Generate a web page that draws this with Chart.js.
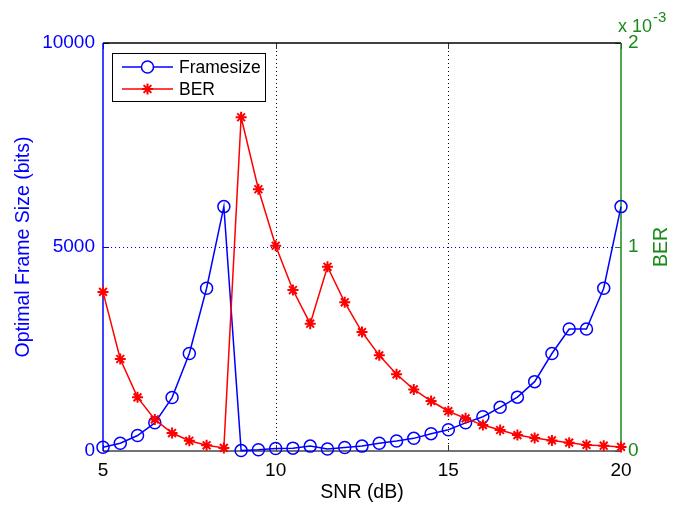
<!DOCTYPE html>
<html>
<head>
<meta charset="utf-8">
<script src="https://cdn.jsdelivr.net/npm/chart.js@4.4.1/dist/chart.umd.min.js"></script>
<style>
html, body { margin: 0; padding: 0; background: #fff; }
#wrap { width: 686px; height: 506px; }
</style>
</head>
<body>
<div id="wrap"><canvas id="chart" width="686" height="506"></canvas></div>
<script>
// data
const snr = [5, 5.5, 6, 6.5, 7, 7.5, 8, 8.5, 9, 9.5, 10, 10.5, 11, 11.5, 12, 12.5,
             13, 13.5, 14, 14.5, 15, 15.5, 16, 16.5, 17, 17.5, 18, 18.5, 19, 19.5, 20];
const frameSize = [90, 190, 380, 690, 1310, 2390, 3990, 5990, 10, 30, 60, 70, 120, 50, 85, 120,
                   190, 245, 310, 425, 520, 690, 840, 1070, 1320, 1700, 2390, 2990, 2990, 3990, 5990];
const ber = [0.78e-3, 0.451e-3, 0.263e-3, 0.155e-3, 0.088e-3, 0.05e-3, 0.028e-3, 0.015e-3,
             1.636e-3, 1.283e-3, 1.006e-3, 0.789e-3, 0.624e-3, 0.903e-3, 0.729e-3, 0.583e-3,
             0.469e-3, 0.376e-3, 0.302e-3, 0.245e-3, 0.195e-3, 0.16e-3, 0.127e-3, 0.103e-3,
             0.078e-3, 0.064e-3, 0.052e-3, 0.041e-3, 0.03e-3, 0.026e-3, 0.02e-3];
const xTicks = [5, 10, 15, 20];
const leftTicks = [0, 5000, 10000];
const rightTicks = [0, 1e-3, 2e-3];

const BLUE = '#0000ff';
const RED = '#ff0000';
const GREEN = '#1a8a1a';
const FONT = '"Liberation Sans", Arial, sans-serif';

const tickFont = { family: FONT, size: 19 };
const titleFont = { family: FONT, size: 19.5 };

// grid, axis lines and inner tick marks, MATLAB style
const axesPlugin = {
    id: 'axesLines',
    beforeDatasetsDraw(chart) {
        const { ctx, chartArea: a, scales } = chart;
        const x = scales.x, y = scales.y, y1 = scales.y1;
        ctx.save();
        ctx.lineWidth = 1;
        ctx.setLineDash([1, 3]);
        // vertical dotted grid
        ctx.strokeStyle = '#000';
        xTicks.forEach(v => {
            if (v === x.min || v === x.max) return;
            const px = Math.round(x.getPixelForValue(v)) + 0.5;
            ctx.beginPath(); ctx.moveTo(px, a.top); ctx.lineTo(px, a.bottom); ctx.stroke();
        });
        // horizontal dotted grid (left axis)
        ctx.strokeStyle = BLUE;
        leftTicks.forEach(v => {
            if (v === y.min || v === y.max) return;
            const py = Math.round(y.getPixelForValue(v)) + 0.5;
            ctx.beginPath(); ctx.moveTo(a.left, py); ctx.lineTo(a.right, py); ctx.stroke();
        });
        ctx.setLineDash([]);
        const tl = 6;
        // x ticks, bottom and top
        ctx.strokeStyle = '#333';
        xTicks.forEach(v => {
            const px = Math.round(x.getPixelForValue(v)) + 0.5;
            ctx.beginPath();
            ctx.moveTo(px, a.bottom); ctx.lineTo(px, a.bottom - tl);
            ctx.moveTo(px, a.top); ctx.lineTo(px, a.top + tl);
            ctx.stroke();
        });
        ctx.strokeStyle = BLUE;
        leftTicks.forEach(v => {
            const py = Math.round(y.getPixelForValue(v)) + 0.5;
            ctx.beginPath(); ctx.moveTo(a.left, py); ctx.lineTo(a.left + tl, py); ctx.stroke();
        });
        ctx.strokeStyle = GREEN;
        rightTicks.forEach(v => {
            const py = Math.round(y1.getPixelForValue(v)) + 0.5;
            ctx.beginPath(); ctx.moveTo(a.right, py); ctx.lineTo(a.right - tl, py); ctx.stroke();
        });
        // box
        ctx.lineWidth = 1.5;
        ctx.strokeStyle = '#000';
        ctx.beginPath(); ctx.moveTo(a.left, a.top); ctx.lineTo(a.right, a.top); ctx.stroke();
        ctx.strokeStyle = '#444';
        ctx.beginPath(); ctx.moveTo(a.left, a.bottom); ctx.lineTo(a.right, a.bottom); ctx.stroke();
        ctx.strokeStyle = BLUE;
        ctx.beginPath(); ctx.moveTo(a.left, a.top); ctx.lineTo(a.left, a.bottom); ctx.stroke();
        ctx.strokeStyle = GREEN;
        ctx.beginPath(); ctx.moveTo(a.right, a.top); ctx.lineTo(a.right, a.bottom); ctx.stroke();
        ctx.restore();
    },
    afterDraw(chart) {
        const { ctx, chartArea: a } = chart;
        ctx.save();
        // right axis title, reading bottom to top
        ctx.fillStyle = GREEN;
        ctx.font = '19.5px ' + FONT;
        ctx.textAlign = 'center';
        ctx.textBaseline = 'middle';
        ctx.translate(662, (a.top + a.bottom) / 2);
        ctx.rotate(-Math.PI / 2);
        ctx.fillText('BER', 0, 0);
        ctx.setTransform(1, 0, 0, 1, 0, 0);

        // exponent label of the right axis
        ctx.textAlign = 'left';
        ctx.textBaseline = 'alphabetic';
        ctx.font = '18px ' + FONT;
        ctx.fillText('x 10', a.right - 3, 32);
        ctx.font = '15px ' + FONT;
        ctx.fillText('-3', a.right + 32, 22);

        // legend box
        const bx = 112.5, by = 53.5, bw = 153, bh = 48;
        ctx.fillStyle = '#fff';
        ctx.fillRect(bx, by, bw, bh);
        ctx.strokeStyle = '#000';
        ctx.lineWidth = 1;
        ctx.strokeRect(bx, by, bw, bh);
        ctx.font = '17.5px ' + FONT;
        ctx.textBaseline = 'middle';
        chart.data.datasets.forEach((ds, i) => {
            const ry = 67 + i * 22;
            ctx.strokeStyle = ds.borderColor;
            ctx.lineWidth = 1.5;
            ctx.beginPath(); ctx.moveTo(122, ry); ctx.lineTo(173, ry); ctx.stroke();
            ctx.lineWidth = ds.pointBorderWidth;
            Chart.helpers.drawPoint(ctx, {
                pointStyle: ds.pointStyle, radius: ds.pointRadius, rotation: 0,
                borderWidth: ds.pointBorderWidth
            }, 147.5, ry);
            ctx.fillStyle = '#000';
            ctx.fillText(ds.label, 179, ry + 1);
        });
        ctx.restore();
    }
};

new Chart(document.getElementById('chart'), {
    type: 'line',
    data: {
        datasets: [{
            label: 'Framesize',
            data: snr.map((s, i) => ({ x: s, y: frameSize[i] })),
            yAxisID: 'y',
            borderColor: BLUE,
            backgroundColor: 'rgba(0,0,0,0)',
            borderWidth: 1.5,
            pointStyle: 'circle',
            pointRadius: 6,
            pointBorderWidth: 1.5,
            pointBorderColor: BLUE,
            pointBackgroundColor: 'rgba(0,0,0,0)',
            tension: 0,
            clip: false,
            order: 2
        }, {
            label: 'BER',
            data: snr.map((s, i) => ({ x: s, y: ber[i] })),
            yAxisID: 'y1',
            borderColor: RED,
            backgroundColor: RED,
            borderWidth: 1.5,
            pointStyle: 'star',
            pointRadius: 5.5,
            pointBorderWidth: 2,
            pointBorderColor: RED,
            pointBackgroundColor: RED,
            tension: 0,
            clip: false,
            order: 1
        }]
    },
    options: {
        responsive: false,
        animation: false,
        devicePixelRatio: 1,
        layout: { padding: { top: 43, left: 0, right: 0, bottom: 0 } },
        plugins: { legend: { display: false }, tooltip: { enabled: false } },
        scales: {
            x: {
                type: 'linear',
                position: 'bottom',
                min: 5, max: 20,
                afterBuildTicks: s => { s.ticks = xTicks.map(v => ({ value: v })); },
                afterFit: s => { s.height = 55; },
                grid: { display: false, drawTicks: false },
                border: { display: false },
                ticks: { color: '#000', font: tickFont, padding: 8, maxRotation: 0 },
                title: { display: true, text: 'SNR (dB)', color: '#000', font: titleFont,
                         padding: { top: 0, bottom: 2 } }
            },
            y: {
                type: 'linear',
                position: 'left',
                min: 0, max: 10000,
                afterBuildTicks: s => { s.ticks = leftTicks.map(v => ({ value: v })); },
                afterFit: s => { s.width = 103; },
                grid: { display: false, drawTicks: false },
                border: { display: false },
                ticks: { color: BLUE, font: tickFont, padding: 8, callback: v => String(v) },
                title: { display: true, text: 'Optimal Frame Size (bits)', color: BLUE, font: titleFont,
                         padding: { top: 12, bottom: 0 } }
            },
            y1: {
                type: 'linear',
                position: 'right',
                min: 0, max: 2e-3,
                afterBuildTicks: s => { s.ticks = rightTicks.map(v => ({ value: v })); },
                afterFit: s => { s.width = 65; },
                grid: { display: false, drawTicks: false },
                border: { display: false },
                ticks: { color: GREEN, font: tickFont, padding: 7,
                         callback: v => String(Math.round(v * 1000)) },
                title: { display: false }
            }
        }
    },
    plugins: [axesPlugin]
});
</script>
</body>
</html>
